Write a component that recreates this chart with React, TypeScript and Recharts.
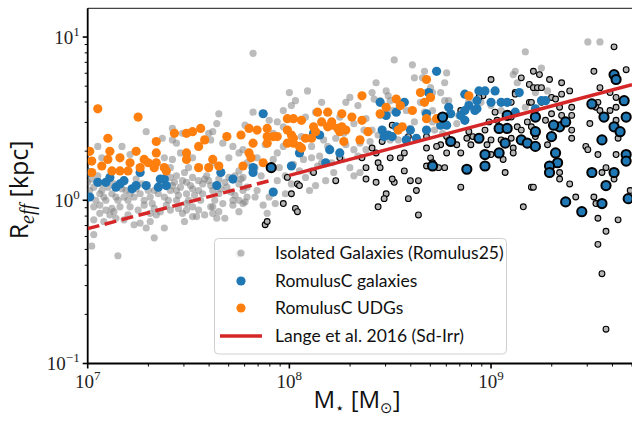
import React from "react";
import { ScatterChart, Scatter, XAxis, YAxis, ReferenceLine } from "recharts";

// every point is [log10 M*/Msun, log10 Reff/kpc]
const isolatedGalaxies: [number, number][] = [
  [7.65, 0.53], [7.64, 0.47], [7.62, 0.42], [7.78, 0.46], [7.37, 0.38], [7.44, 0.35], [7.61, 0.37],
  [7.67, 0.35], [7.72, 0.33], [7.05, 0.33], [7.07, 0.26], [7.21, 0.28], [7.42, 0.25], [7.46, 0.29],
  [7.52, 0.26], [7.7, 0.26], [7.75, 0.29], [7.0, 0.11], [7.03, 0.08], [7.01, 0.06], [7.06, 0.04],
  [7.08, 0.02], [7.12, 0.04], [7.15, 0.0], [7.18, 0.02], [7.21, 0.04], [7.26, 0.04], [7.28, 0.0],
  [7.31, 0.02], [7.33, 0.06], [7.38, 0.02], [7.41, 0.06], [7.43, 0.11], [7.46, 0.08], [7.49, 0.11],
  [7.49, 0.04], [7.52, 0.07], [7.55, 0.06], [7.57, 0.1], [7.59, 0.15], [7.6, 0.12], [7.62, 0.06],
  [7.65, 0.13], [7.69, 0.08], [7.7, 0.14], [7.75, 0.18], [7.75, 0.1], [7.77, 0.06], [7.44, 0.15],
  [7.41, 0.14], [7.48, 0.17], [7.52, 0.14], [7.55, 0.12], [7.04, 0.0], [7.03, -0.04], [7.06, -0.03],
  [7.09, -0.06], [7.16, -0.04], [7.21, -0.04], [7.28, -0.03], [7.33, -0.05], [7.39, -0.03], [7.44, 0.0],
  [7.49, -0.02], [7.52, -0.04], [7.56, 0.0], [7.62, -0.04], [7.67, -0.02], [7.72, 0.0], [7.75, 0.0],
  [7.47, -0.08], [7.52, -0.1], [7.58, -0.09], [7.68, -0.11], [7.72, -0.03], [7.03, -0.12], [7.08, -0.13],
  [7.11, -0.09], [7.14, -0.11], [7.18, -0.12], [7.23, -0.15], [7.26, -0.14], [7.31, -0.13], [7.34, -0.09],
  [7.38, -0.17], [7.48, -0.13], [7.54, -0.1], [7.64, -0.11], [7.03, -0.21], [7.33, -0.23], [7.15, -0.34],
  [7.02, -0.28], [7.75, -0.33], [7.29, -0.17], [7.61, -0.04], [7.89, -0.08], [7.93, -0.02], [7.42, 0.44],
  [7.47, 0.41], [7.6, 0.41], [7.42, 0.37], [7.62, 0.23], [7.5, 0.2], [7.41, 0.2], [7.38, 0.26],
  [7.1, 0.08], [7.07, 0.1], [7.24, 0.13], [7.19, 0.06], [7.12, -0.05], [7.09, 0.0], [7.44, 0.06],
  [7.65, 0.04], [7.73, 0.03], [7.77, -0.02], [7.49, -0.06], [7.41, -0.06], [7.31, -0.08], [7.75, -0.07],
  [7.62, -0.08], [7.29, 0.42], [7.17, 0.33], [7.97, 0.55], [7.94, 0.48],
  [7.02, 0.13], [7.05, 0.15], [7.07, 0.06], [7.1, 0.12], [7.13, 0.1], [7.14, 0.02], [7.17, 0.07],
  [7.2, 0.0], [7.23, 0.02], [7.24, 0.07], [7.27, 0.1], [7.3, 0.06], [7.32, -0.02], [7.35, 0.04],
  [7.36, 0.1], [7.4, 0.0], [7.42, 0.09], [7.45, 0.03], [7.47, 0.12], [7.5, 0.0], [7.51, 0.09],
  [7.53, 0.03], [7.57, 0.04], [7.58, 0.13], [7.61, 0.09], [7.63, 0.0], [7.66, 0.07], [7.68, 0.11],
  [7.71, 0.05], [7.73, 0.15], [7.76, 0.13], [7.79, 0.02], [7.25, -0.06], [7.36, -0.07], [7.45, -0.05],
  [7.55, -0.06], [7.65, -0.07], [7.13, -0.07], [7.06, -0.08], [7.2, -0.09],
  [7.82, 0.9], [8.52, 0.86], [8.43, 0.72], [8.0, 0.66], [8.09, 0.67], [8.03, 0.61], [8.01, 0.58],
  [8.16, 0.6], [8.13, 0.54], [7.82, 0.54], [8.3, 0.63], [8.28, 0.6], [8.34, 0.58], [8.41, 0.66],
  [8.42, 0.62], [8.45, 0.61], [8.48, 0.67], [8.49, 0.64], [8.08, 0.51], [7.97, 0.45], [7.9, 0.49],
  [7.92, 0.41], [8.2, 0.46], [8.25, 0.51], [8.32, 0.47], [8.38, 0.5], [8.41, 0.43], [8.45, 0.52],
  [8.06, 0.39], [8.11, 0.33], [8.17, 0.37], [8.05, 0.31], [8.11, 0.26], [8.14, 0.21], [7.97, 0.33],
  [7.94, 0.29], [7.88, 0.34], [7.84, 0.26], [7.79, 0.23], [7.77, 0.31], [7.83, 0.2], [7.98, 0.15],
  [8.05, 0.18], [8.01, 0.1], [8.13, 0.09], [8.08, 0.14], [8.11, 0.18], [8.16, 0.23], [8.21, 0.23],
  [8.26, 0.25], [8.3, 0.2], [8.32, 0.31], [8.35, 0.35], [8.38, 0.31], [8.32, 0.15], [8.35, 0.17],
  [8.5, 0.37], [7.77, 0.14], [7.79, 0.08], [7.84, 0.06], [7.78, -0.01], [7.83, 0.02], [7.87, -0.03],
  [7.9, 0.02], [7.94, 0.12], [7.98, 0.04],
  [8.02, 0.22], [8.07, 0.25], [8.15, 0.27], [8.19, 0.33], [8.23, 0.38], [8.28, 0.34], [8.34, 0.27],
  [8.4, 0.36], [8.22, 0.17], [8.18, 0.12], [8.1, 0.06], [7.95, 0.2], [7.86, 0.15], [7.92, 0.25],
  [8.27, 0.41], [8.37, 0.43], [8.44, 0.4],
  [8.61, 0.83], [8.67, 0.79], [8.66, 0.75], [8.62, 0.75], [8.78, 0.78], [8.77, 0.72], [8.7, 0.69],
  [8.71, 0.66], [8.75, 0.66], [8.79, 0.61], [8.65, 0.6], [8.67, 0.54], [8.71, 0.55], [8.58, 0.55],
  [8.62, 0.48], [8.6, 0.44], [8.71, 0.48], [8.72, 0.43], [8.5, 0.61], [8.51, 0.55], [8.53, 0.44],
  [8.54, 0.37], [9.12, 0.79], [9.11, 0.77], [9.13, 0.72], [9.05, 0.55], [9.0, 0.58], [8.95, 0.6],
  [8.89, 0.61], [8.84, 0.52], [8.83, 0.47], [8.76, 0.41], [8.77, 0.61], [9.17, 0.91], [9.48, 0.97],
  [9.54, 0.97], [9.25, 0.81], [9.28, 0.67], [9.17, 0.57], [9.22, 0.66],
];

// massive isolated galaxies, drawn with a black edge
const isolatedEdged: [number, number][] = [
  [7.97, -0.02], [8.03, -0.05], [8.04, -0.07], [7.88, -0.15], [7.89, -0.13], [7.99, 0.14], [8.04, 0.1],
  [8.01, 0.04], [8.12, 0.17], [8.23, 0.12], [8.38, 0.13], [8.43, 0.11], [8.52, 0.11], [8.51, 0.13],
  [8.48, 0.04], [8.47, 0.01], [8.44, -0.04], [8.6, 0.12], [8.63, 0.06], [8.59, 0.01], [8.64, -0.09],
  [8.51, 0.46], [8.46, 0.36], [8.41, 0.32], [8.43, 0.29], [8.5, 0.26], [8.36, 0.26], [8.25, 0.26],
  [8.44, 0.23], [8.38, 0.2], [8.45, 0.2], [8.59, 0.39], [8.57, 0.29], [8.55, 0.26], [8.05, 0.09],
  [9.21, 0.79], [9.0, 0.74], [9.15, 0.75], [9.12, 0.66], [9.19, 0.71], [9.21, 0.69], [9.19, 0.6],
  [9.1, 0.6], [8.96, 0.64], [8.94, 0.63], [8.85, 0.55], [8.91, 0.39], [8.89, 0.42], [8.97, 0.43],
  [8.99, 0.48], [9.02, 0.54], [9.03, 0.49], [9.1, 0.51], [9.13, 0.45], [9.15, 0.43], [9.2, 0.45],
  [9.22, 0.39], [9.11, 0.32], [9.1, 0.38], [9.05, 0.37], [9.0, 0.37], [8.98, 0.34], [8.9, 0.34],
  [8.88, 0.38], [8.83, 0.34], [8.85, 0.29], [8.78, 0.29], [8.75, 0.34], [8.73, 0.33], [8.68, 0.32],
  [8.7, 0.26], [8.71, 0.23], [8.68, 0.21], [8.74, 0.2], [8.77, 0.2], [8.78, 0.39], [8.68, 0.39],
  [8.57, 0.18], [8.64, 0.12], [8.85, 0.08], [9.07, 0.17], [9.16, -0.04], [9.2, 0.08], [9.0, 0.28],
  [9.61, 0.94], [9.67, 0.8], [9.51, 0.79], [9.54, 0.69], [9.59, 0.66], [9.62, 0.63], [9.62, 0.57],
  [9.53, 0.6], [9.52, 0.57], [9.54, 0.55], [9.59, 0.55], [9.49, 0.47], [9.62, 0.49], [9.63, 0.38],
  [9.53, 0.28], [9.57, 0.2], [9.62, 0.28], [9.55, 0.17], [9.61, 0.13], [9.47, 0.33], [9.48, 0.31],
  [9.51, 0.02], [9.52, -0.02], [9.53, -0.11], [9.57, -0.19], [9.53, -0.27], [9.55, -0.45], [9.57, -0.79],
  [9.63, -0.12], [9.69, 0.06], [9.42, 0.02], [9.39, 0.1], [9.34, 0.17], [9.34, 0.13], [9.4, 0.38],
  [9.4, 0.43], [9.4, 0.52], [9.35, 0.52], [9.36, 0.47], [9.28, 0.34], [9.27, 0.49], [9.3, 0.53],
  [9.21, 0.08], [9.06, 0.25], [9.11, 0.29], [9.18, 0.48], [9.39, 0.67], [9.35, 0.72], [9.29, 0.74],
  [9.24, 0.77], [9.23, 0.69], [9.25, 0.69], [9.35, 0.65], [9.3, 0.63], [9.32, 0.62], [9.34, 0.57],
  [9.25, 0.6], [9.2, 0.6], [9.12, 0.65], [9.4, 0.57],
];

const romulusCGalaxies: [number, number][] = [
  [7.01, 0.02], [7.0, 0.17], [7.05, 0.11], [7.09, 0.11], [7.11, 0.14], [7.14, 0.08], [7.16, 0.1],
  [7.18, 0.12], [7.22, 0.07], [7.24, 0.09], [7.26, 0.17], [7.29, 0.09], [7.35, 0.08], [7.36, 0.13],
  [7.38, 0.13], [7.39, 0.09], [7.64, 0.09], [7.66, 0.17], [7.72, 0.13], [7.87, 0.53], [7.82, 0.2],
  [7.82, 0.17], [8.01, 0.21], [8.05, 0.29], [8.2, 0.31], [8.15, 0.4], [8.12, 0.41], [8.18, 0.23],
  [8.25, 0.29], [7.92, 0.05], [8.45, 0.6], [8.48, 0.52], [8.46, 0.43], [8.47, 0.39], [8.49, 0.4],
  [8.73, 0.79], [8.69, 0.66], [8.87, 0.65], [8.94, 0.67], [8.97, 0.67], [9.02, 0.67], [9.0, 0.6],
  [9.05, 0.6], [8.93, 0.61], [8.89, 0.58], [8.92, 0.55], [8.93, 0.56], [8.87, 0.55], [8.85, 0.52],
  [8.8, 0.53], [8.79, 0.57], [8.87, 0.49], [8.76, 0.47], [8.75, 0.46], [8.78, 0.46], [8.68, 0.53],
  [8.68, 0.43], [8.6, 0.43], [8.63, 0.38], [8.58, 0.37], [8.53, 0.45], [8.51, 0.39], [8.57, 0.6],
  [8.53, 0.54], [9.14, 0.66], [9.08, 0.6], [9.12, 0.54], [9.22, 0.56], [9.25, 0.61], [9.27, 0.61],
];

const romulusCUDGs: [number, number][] = [
  [7.05, 0.56], [7.25, 0.51], [7.1, 0.38], [7.43, 0.41], [7.49, 0.41], [7.52, 0.42], [7.56, 0.44],
  [7.69, 0.39], [7.76, 0.4], [7.34, 0.36], [7.58, 0.37], [7.01, 0.3], [7.11, 0.3], [7.24, 0.3],
  [7.34, 0.29], [7.49, 0.29], [7.55, 0.33], [7.49, 0.25], [7.02, 0.24], [7.07, 0.21], [7.1, 0.25],
  [7.12, 0.18], [7.16, 0.26], [7.16, 0.18], [7.2, 0.18], [7.21, 0.23], [7.26, 0.2], [7.28, 0.25],
  [7.3, 0.23], [7.33, 0.2], [7.34, 0.23], [7.38, 0.2], [7.39, 0.18], [7.02, 0.17], [7.55, 0.2],
  [7.6, 0.2], [7.62, 0.25], [7.65, 0.21], [7.77, 0.21], [7.8, 0.44], [7.84, 0.43], [7.82, 0.35],
  [7.8, 0.29], [7.81, 0.26], [7.87, 0.23], [7.89, 0.44], [7.89, 0.35], [7.89, 0.39], [7.92, 0.39],
  [7.94, 0.39], [7.99, 0.5], [8.02, 0.5], [8.06, 0.49], [7.99, 0.43], [8.01, 0.4], [8.02, 0.38],
  [7.99, 0.35], [8.02, 0.35], [8.05, 0.33], [8.06, 0.32], [8.08, 0.38], [8.11, 0.38], [8.14, 0.54],
  [8.19, 0.54], [8.12, 0.45], [8.13, 0.42], [8.16, 0.48], [8.19, 0.45], [8.21, 0.48], [8.26, 0.53],
  [8.31, 0.51], [8.36, 0.49], [8.21, 0.46], [8.24, 0.44], [8.26, 0.45], [8.25, 0.42], [8.28, 0.43],
  [8.27, 0.36], [8.35, 0.37], [8.39, 0.42], [8.36, 0.64], [8.45, 0.53], [8.48, 0.57], [8.53, 0.62],
  [8.68, 0.74], [8.65, 0.66], [8.7, 0.63], [8.55, 0.58], [8.61, 0.55], [8.67, 0.6], [8.68, 0.5],
  [8.73, 0.5], [8.56, 0.45], [8.54, 0.43], [8.89, 0.64],
];

// RomulusC galaxies drawn with a thick black edge
const romulusCEdged: [number, number][] = [
  [7.91, 0.2], [8.76, 0.51], [8.8, 0.36], [8.71, 0.21], [8.88, 0.19], [8.97, 0.21], [8.97, 0.28],
  [8.94, 0.38], [9.04, 0.44], [9.08, 0.44], [9.08, 0.52], [9.07, 0.35], [9.04, 0.29], [9.15, 0.37],
  [9.18, 0.35], [9.22, 0.51], [9.22, 0.42], [9.22, 0.33], [9.3, 0.39], [9.34, 0.45], [9.37, 0.48],
  [9.31, 0.46], [9.32, 0.29], [9.33, 0.23], [9.29, 0.21], [9.29, 0.17], [9.37, -0.01], [9.45, -0.07],
  [9.5, 0.17], [9.5, 0.59], [9.55, 0.37], [9.56, 0.51], [9.57, 0.09], [9.55, -0.02], [9.61, 0.77],
  [9.62, 0.74], [9.61, 0.45], [9.64, 0.42], [9.66, 0.61], [9.67, 0.51], [9.67, 0.28], [9.67, 0.24],
  [9.61, 0.17], [9.68, 0.01],
];

// Lange et al. 2016 Sd-Irr relation
const langeMass = [1e7, 8e7, 1e8, 5e9];
const langeReff = [0.67, 1.32, 1.42, 5.1];

const xMajor = [1e7, 1e8, 1e9];
const xMinor = [2e7, 3e7, 4e7, 5e7, 6e7, 7e7, 8e7, 9e7, 2e8, 3e8, 4e8, 5e8, 6e8, 7e8, 8e8, 9e8, 2e9, 3e9, 4e9, 5e9];
const yMajor = [0.1, 1, 10];
const yMinor = [0.2, 0.3, 0.4, 0.5, 0.6, 0.7, 0.8, 0.9, 2, 3, 4, 5, 6, 7, 8, 9];

const toPoints = (arr: [number, number][]) => arr.map(([lm, lr]) => ({ m: 10 ** lm, r: 10 ** lr }));

const langeDashed = langeMass.slice(0, 2).map((m, i) => ({ m, r: langeReff[i] }));
const langeSolid = langeMass.slice(2).map((m, i) => ({ m, r: langeReff[i + 2] }));

const SERIF = "'Liberation Serif', 'DejaVu Serif', serif";
const SANS = "Lato, 'DejaVu Sans', sans-serif";
const LABEL = "'Open Sans', 'DejaVu Sans', sans-serif";

const expLabel = (v: number) => {
  const e = Math.round(Math.log10(v));
  return e < 0 ? "\u2212" + Math.abs(e) : String(e);
};

const XTick = (props: any) => {
  const { x, y, payload } = props;
  const major = xMajor.includes(payload.value);
  return (
    <g>
      <line x1={x} x2={x} y1={y} y2={y + (major ? 5 : 3)} stroke="#000" strokeWidth={major ? 1.6 : 1} />
      {major && (
        <text x={x} y={y + 24.5} textAnchor="middle" fontFamily={SERIF} fontSize={19} fill="#222">
          10<tspan dy={-8} fontSize={13}>{expLabel(payload.value)}</tspan>
        </text>
      )}
    </g>
  );
};

const YTick = (props: any) => {
  const { x, y, payload } = props;
  const major = yMajor.includes(payload.value);
  return (
    <g>
      <line x1={x} x2={x - (major ? 5 : 3)} y1={y} y2={y} stroke="#000" strokeWidth={major ? 1.6 : 1} />
      {major && (
        <text x={x - 8} y={y + 6.5} textAnchor="end" fontFamily={SERIF} fontSize={19} fill="#222">
          10<tspan dy={-8} fontSize={13}>{expLabel(payload.value)}</tspan>
        </text>
      )}
    </g>
  );
};

const grayDot = (p: any) => <circle cx={p.cx} cy={p.cy} r={3.6} fill="#808080" fillOpacity={0.53} />;
const edgedGray = (p: any) => (
  <circle cx={p.cx} cy={p.cy} r={2.9} fill="#b4b4b4" stroke="#000" strokeWidth={1.1} />
);
const blueDot = (p: any) => <circle cx={p.cx} cy={p.cy} r={4.6} fill="#1f77b4" />;
const orangeDot = (p: any) => <circle cx={p.cx} cy={p.cy} r={4.6} fill="#ff7f0e" />;
const edgedBlue = (p: any) => (
  <circle cx={p.cx} cy={p.cy} r={4.6} fill="#1f77b4" stroke="#000" strokeWidth={2} />
);
const noDot = () => <g />;

export default function App() {
  return (
    <div style={{ position: "absolute", left: 0, top: 0, width: 632, height: 421, background: "#fff" }}>
      <ScatterChart width={632} height={421} margin={{ top: 8.3, right: 0, bottom: 0, left: 7.7 }}>
        <XAxis
          type="number"
          dataKey="m"
          scale="log"
          domain={[1e7, 5e9]}
          allowDataOverflow
          ticks={[...xMajor, ...xMinor]}
          interval={0}
          tick={<XTick />}
          tickLine={false}
          tickSize={0}
          tickMargin={0}
          axisLine={{ stroke: "#000", strokeWidth: 1.8 }}
          height={57.5}
        />
        <YAxis
          type="number"
          dataKey="r"
          scale="log"
          domain={[0.1, 15]}
          allowDataOverflow
          ticks={[...yMajor, ...yMinor]}
          interval={0}
          tick={<YTick />}
          tickLine={false}
          tickSize={0}
          tickMargin={0}
          axisLine={{ stroke: "#000", strokeWidth: 1.8 }}
          width={80}
        />
        <ReferenceLine y={15} stroke="#444" strokeWidth={1.2} />
        <Scatter data={toPoints(isolatedGalaxies)} shape={grayDot} isAnimationActive={false} />
        <Scatter data={toPoints(isolatedEdged)} shape={edgedGray} isAnimationActive={false} />
        <Scatter data={toPoints(romulusCGalaxies)} shape={blueDot} isAnimationActive={false} />
        <Scatter data={toPoints(romulusCUDGs)} shape={orangeDot} isAnimationActive={false} />
        <Scatter data={toPoints(romulusCEdged)} shape={edgedBlue} isAnimationActive={false} />
        <Scatter
          data={langeDashed}
          shape={noDot}
          line={{ stroke: "#d62728", strokeWidth: 3.5, strokeDasharray: "12 5.5" }}
          isAnimationActive={false}
        />
        <Scatter
          data={langeSolid}
          shape={noDot}
          line={{ stroke: "#d62728", strokeWidth: 3.5 }}
          isAnimationActive={false}
        />
      </ScatterChart>

      <svg
        width={632}
        height={421}
        style={{ position: "absolute", left: 0, top: 0, pointerEvents: "none" }}
      >
        <text transform="translate(28,190) rotate(-90)" textAnchor="middle" fontFamily={LABEL} fontSize={25} fill="#111">
          R
          <tspan fontFamily={SERIF} fontStyle="italic" fontSize={20} dy={6}>eff</tspan>
          <tspan dy={-6}> [kpc]</tspan>
        </text>
        <text x={357} y={408} textAnchor="middle" fontFamily={LABEL} fontSize={24} fill="#111">
          M<tspan fontSize={15} dy={5}>{"\u22c6"}</tspan>
          <tspan dy={-5}> [M</tspan>
          <tspan fontSize={15} dy={5}>{"\u2299"}</tspan>
          <tspan dy={-5}>]</tspan>
        </text>

        <rect x={214.5} y={238.5} width={292} height={115.5} rx={4} fill="#fff" fillOpacity={0.8} stroke="#d0d0d0" />
        <circle cx={241} cy={253} r={3.6} fill="#808080" fillOpacity={0.53} />
        <circle cx={241} cy={281} r={4.6} fill="#1f77b4" />
        <circle cx={241} cy={308} r={4.6} fill="#ff7f0e" />
        <line x1={220} x2={262} y1={336} y2={336} stroke="#d62728" strokeWidth={3.5} />
        <g fontFamily={SANS} fontSize={17.5} fill="#111">
          <text x={275} y={259}>Isolated Galaxies (Romulus25)</text>
          <text x={275} y={287}>RomulusC galaxies</text>
          <text x={275} y={314}>RomulusC UDGs</text>
          <text x={275} y={342}>Lange et al. 2016 (Sd-Irr)</text>
        </g>
      </svg>
    </div>
  );
}
